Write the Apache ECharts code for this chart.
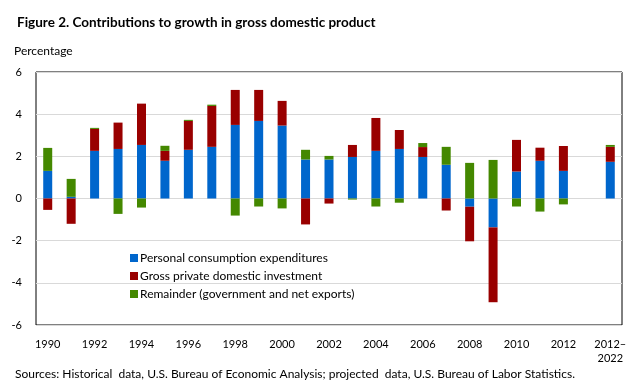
<!DOCTYPE html>
<html><head><meta charset="utf-8">
<script src="https://cdn.jsdelivr.net/npm/echarts@6/dist/echarts.min.js"></script>
<style>html,body{margin:0;padding:0;background:#fff}#c{width:636px;height:384px}</style>
</head><body><div id="c"></div>
<script>
const categories = ['1990','1991','1992','1993','1994','1995','1996','1997','1998','1999','2000','2001','2002','2003','2004','2005','2006','2007','2008','2009','2010','2011','2012','','2012–\n2022'];
const consumption = [1.31,0.08,2.26,2.35,2.54,1.79,2.31,2.45,3.49,3.68,3.46,1.85,1.85,1.97,2.26,2.35,1.97,1.60,-0.39,-1.37,1.28,1.79,1.31,null,1.74];
const investment = [-0.54,-1.20,1.04,1.25,1.96,0.47,1.37,1.94,1.66,1.47,1.17,-1.23,-0.24,0.57,1.56,0.90,0.47,-0.57,-1.64,-3.55,1.50,0.62,1.18,null,0.71];
const remainder = [1.09,0.85,0.05,-0.73,-0.43,0.24,0.05,0.06,-0.81,-0.38,-0.47,0.46,0.17,-0.05,-0.38,-0.20,0.19,0.85,1.69,1.83,-0.38,-0.62,-0.28,null,0.09];
const seriesNames = ['Personal consumption expenditures','Gross private domestic investment','Remainder (government and net exports)'];
const colors = ['#0066CC','#990000','#448800'];
const yTicks = {min:-6, max:6, interval:2};

const chart = echarts.init(document.getElementById('c'), null, {renderer:'canvas'});
const font = 'Lato, "Open Sans", sans-serif';
const mk = (name, data, color) => ({
  name, type:'bar', stack:'gdp', data, barWidth:9,
  itemStyle:{color}, emphasis:{disabled:true}
});
chart.setOption({
  animation:false,
  textStyle:{fontFamily:font},
  title:[
    {text:'Figure 2. Contributions to growth in gross domestic product', left:12, top:11,
     textStyle:{fontFamily:font, fontWeight:'bold', fontSize:13.5, color:'#000'}},
    {text:'Percentage', left:9, top:40, textStyle:{fontFamily:font, fontWeight:'normal', fontSize:12, color:'#000'}},
    {text:'Sources: Historical  data, U.S. Bureau of Economic Analysis; projected  data, U.S. Bureau of Labor Statistics.', left:10, top:363,
     textStyle:{fontFamily:font, fontWeight:'normal', fontSize:12, color:'#000'}}
  ],
  grid:{left:36, right:14, top:72, bottom:59, show:true, borderColor:'#000', borderWidth:1, backgroundColor:'transparent'},
  legend:{orient:'vertical', left:130, top:252, padding:0, itemWidth:8, itemHeight:8, itemGap:6, icon:'rect',
    textStyle:{fontFamily:font, fontSize:12, color:'#000', lineHeight:12, padding:[0,0,0,-3]}, data:seriesNames, selectedMode:false},
  xAxis:{type:'category', data:categories,
    axisLine:{show:false}, axisTick:{show:false},
    axisLabel:{interval:1, color:'#000', fontSize:11, fontFamily:font, margin:12, lineHeight:14}},
  yAxis:{type:'value', min:yTicks.min, max:yTicks.max, interval:yTicks.interval,
    axisLine:{show:false}, axisTick:{show:false},
    axisLabel:{color:'#000', fontSize:11, fontFamily:font, margin:14},
    splitLine:{lineStyle:{color:'#d9d9d9', width:1}}},
  series:[mk(seriesNames[0], consumption, colors[0]), mk(seriesNames[1], investment, colors[1]), mk(seriesNames[2], remainder, colors[2])]
});
</script></body></html>
